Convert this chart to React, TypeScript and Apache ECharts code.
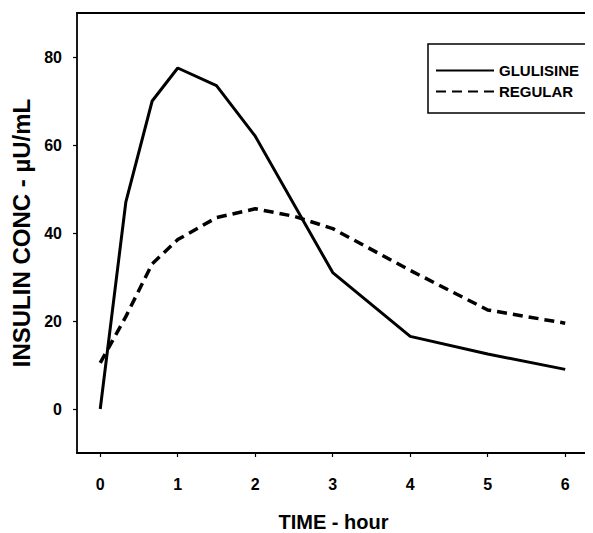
import React, { useEffect, useRef } from "react";
import * as echarts from "echarts";

const glulisineTimes = [0, 0.33, 0.67, 1, 1.5, 2, 3, 4, 5, 6];
const glulisineValues = [0, 47, 70, 77.5, 73.5, 62, 31, 16.5, 12.5, 9];
const regularTimes = [0, 0.33, 0.67, 1, 1.5, 2, 2.5, 3, 4, 5, 6];
const regularValues = [10.5, 21, 33, 38.5, 43.5, 45.5, 43.8, 41, 31.5, 22.5, 19.5];
const xTicks = [0, 1, 2, 3, 4, 5, 6];
const yTicks = [0, 20, 40, 60, 80];
const seriesNames = ["GLULISINE", "REGULAR"];

const FONT = "'Liberation Sans', Arial, sans-serif";

export default function App() {
  const ref = useRef<HTMLDivElement>(null);
  useEffect(() => {
    if (!ref.current) return;
    const chart = echarts.init(ref.current, undefined, { renderer: "svg" });
    const toPairs = (t: number[], v: number[]) => t.map((x, i) => [x, v[i]]);
    chart.setOption({
      animation: false,
      backgroundColor: "#fff",
      grid: { left: 69, right: 3, top: 5, bottom: 80, containLabel: false, outerBoundsMode: "none" },
      legend: {
        orient: "vertical",
        left: 420,
        top: 36,
        padding: [19, 7, 14, 7],
        itemGap: 6,
        itemWidth: 58,
        itemHeight: 14,
        borderColor: "#000",
        borderWidth: 1.5,
        itemStyle: { opacity: 0 },
        textStyle: { fontFamily: FONT, fontSize: 15, fontWeight: "bold", color: "#000" },
        data: seriesNames,
      },
      xAxis: [
        {
          type: "value",
          min: -0.3,
          max: 6.32,
          splitLine: { show: false },
          axisLine: { show: true, onZero: false, lineStyle: { color: "#000", width: 1.8 } },
          axisTick: { show: true, length: 4, customValues: xTicks, lineStyle: { color: "#000", width: 1.2 } },
          axisLabel: {
            customValues: xTicks,
            margin: 23,
            fontFamily: FONT,
            fontSize: 16,
            fontWeight: "bold",
            color: "#000",
          },
          name: "TIME - hour",
          nameLocation: "middle",
          nameGap: 59,
          nameTextStyle: { fontFamily: FONT, fontSize: 20, fontWeight: "bold", color: "#000" },
        },
        {
          type: "value",
          position: "top",
          min: -0.3,
          max: 6.32,
          splitLine: { show: false },
          axisLine: { show: true, onZero: false, lineStyle: { color: "#000", width: 1.8 } },
          axisTick: { show: false },
          axisLabel: { show: false },
        },
      ],
      yAxis: {
        type: "value",
        min: -10,
        max: 90,
        splitLine: { show: false },
        axisLine: { show: true, onZero: false, lineStyle: { color: "#000", width: 1.8 } },
        axisTick: { show: true, length: 4, customValues: yTicks, lineStyle: { color: "#000", width: 1.2 } },
        axisLabel: {
          customValues: yTicks,
          margin: 15,
          fontFamily: FONT,
          fontSize: 16,
          fontWeight: "bold",
          color: "#000",
        },
        name: "INSULIN CONC - µU/mL",
        nameLocation: "middle",
        nameGap: 41,
        nameTextStyle: { fontFamily: FONT, fontSize: 24, fontWeight: "bold", color: "#000" },
      },
      series: [
        {
          name: seriesNames[0],
          type: "line",
          data: toPairs(glulisineTimes, glulisineValues),
          showSymbol: false,
          symbol: "none",
          lineStyle: { color: "#000", width: 3, type: "solid" },
          itemStyle: { color: "#000" },
        },
        {
          name: seriesNames[1],
          type: "line",
          data: toPairs(regularTimes, regularValues),
          showSymbol: false,
          symbol: "none",
          lineStyle: { color: "#000", width: 3.5, type: [10, 6] },
          itemStyle: { color: "#000" },
        },
      ],
    });
    return () => chart.dispose();
  }, []);
  return <div ref={ref} style={{ width: 585, height: 525 }} />;
}
